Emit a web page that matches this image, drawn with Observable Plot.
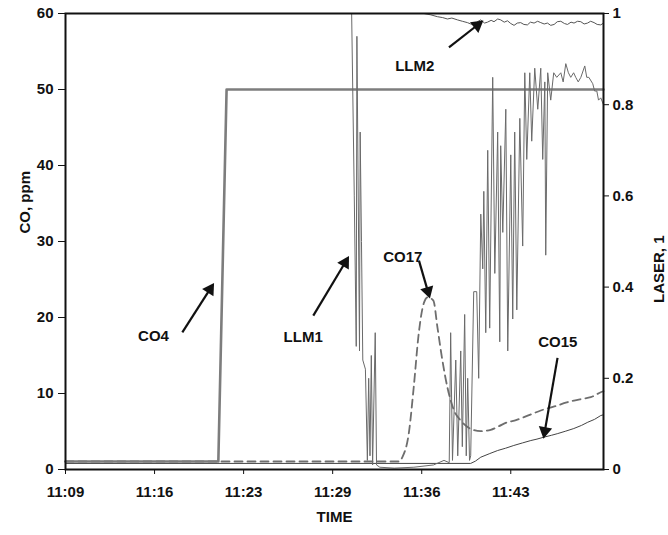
<!DOCTYPE html>
<html>
<head>
<meta charset="utf-8">
<script src="https://cdn.jsdelivr.net/npm/d3@7"></script>
<script src="https://cdn.jsdelivr.net/npm/@observablehq/plot@0.6"></script>
<style>
  html, body { margin: 0; padding: 0; background: #fff; }
  #chart { width: 668px; height: 535px; }
</style>
</head>
<body>
<div id="chart"></div>
<script>
// time in minutes after 11:00
const xTicks = [9.4, 16.2, 23.0, 29.8, 36.6, 43.4];
const xTickLabels = ["11:09", "11:16", "11:23", "11:29", "11:36", "11:43"];
const coTicks = [0, 10, 20, 30, 40, 50, 60];
const laserTicks = [0, 0.2, 0.4, 0.6, 0.8, 1];
const laserTickLabels = ["0", "0.2", "0.4", "0.6", "0.8", "1"];

// CO, ppm
const co4 = [[9.4, 1.05], [21.07, 1.05], [21.7, 50], [50.48, 50]];
const co15 = [[9.4, 0.8], [40.34, 0.8], [40.7, 1.1], [41.11, 1.62], [41.8, 2.1], [42.4, 2.5], [43.0, 2.8], [43.63, 3.16],
  [44.3, 3.5], [44.93, 3.81], [45.4, 4.0], [45.92, 4.25], [46.5, 4.5], [46.99, 4.73], [47.6, 5.05], [48.21, 5.39],
  [48.8, 5.8], [49.28, 6.22], [49.8, 6.6], [50.27, 7.1], [50.48, 7.2]];
const co17 = [[9.4, 1.05], [34.9, 1.05], [35.12, 1.62], [35.61, 4.73], [35.99, 10.82], [36.37, 17.88], [36.75, 21.83],
  [37.06, 22.66], [37.49, 22.22], [37.80, 18.71], [38.18, 14.33], [38.56, 10.82], [39.07, 7.76], [39.58, 6.44],
  [40.34, 5.35], [41.11, 5.04], [41.87, 5.22], [42.5, 5.7], [43.15, 6.22], [43.8, 6.5], [44.41, 6.88], [45.0, 7.3],
  [45.69, 7.76], [46.3, 8.1], [46.97, 8.42], [47.6, 8.8], [48.23, 9.07], [48.9, 9.3], [49.51, 9.51], [50.27, 10.16], [50.48, 10.3]];

// LASER, 1
const llm1 = [[9.4, 1], [31.25, 1], [31.45, 0.6], [31.6, 0.27], [31.65, 0.95], [31.85, 0.26], [31.9, 0.74], [32.0, 0.5],
  [32.1, 0.24], [32.3, 0.22], [32.45, 0.02], [32.55, 0.2], [32.65, 0.03], [32.75, 0.25], [32.85, 0.01], [33.05, 0.3],
  [33.15, 0.01], [33.4, 0.005], [34.5, 0.003], [36.0, 0.005], [37.5, 0.01], [38.3, 0.02], [38.7, 0.015],
  [38.81, 0.3], [38.95, 0.02], [39.2, 0.24], [39.35, 0.03], [39.58, 0.26], [39.7, 0.05], [39.88, 0.34], [40.0, 0.03],
  [40.11, 0.2], [40.25, 0.02], [40.34, 0.03], [40.57, 0.39], [40.8, 0.39], [40.95, 0.2], [41.11, 0.56], [41.26, 0.44],
  [41.34, 0.61], [41.49, 0.3], [41.64, 0.7], [41.79, 0.31], [42.02, 0.86], [42.18, 0.43], [42.4, 0.74], [42.56, 0.28],
  [42.63, 0.71], [42.79, 0.52], [43.02, 0.79], [43.17, 0.26], [43.4, 0.69], [43.55, 0.33], [43.7, 0.74], [43.86, 0.35],
  [44.09, 0.77], [44.31, 0.49], [44.47, 0.87], [44.62, 0.68], [44.85, 0.87], [45.0, 0.72], [45.23, 0.88], [45.46, 0.79],
  [45.69, 0.88], [45.84, 0.68], [46.0, 0.85], [46.07, 0.47], [46.22, 0.87], [46.45, 0.81], [46.68, 0.87], [46.91, 0.86],
  [47.22, 0.87], [47.4, 0.85], [47.6, 0.89], [47.8, 0.87], [47.98, 0.86], [48.2, 0.87], [48.36, 0.86], [48.55, 0.85],
  [48.75, 0.86], [49.05, 0.885], [49.2, 0.86], [49.36, 0.86], [49.66, 0.846], [49.8, 0.83], [49.97, 0.83], [50.1, 0.81],
  [50.27, 0.815], [50.48, 0.8]];
const llm2 = [[9.4, 1], [36.77, 1], [37.3, 0.997], [37.8, 0.993], [38.2, 0.991], [38.56, 0.988], [38.9, 0.99], [39.33, 0.986],
  [39.7, 0.983], [40.09, 0.98], [40.35, 0.977], [40.59, 0.975], [40.85, 0.982], [41.11, 0.986], [41.4, 0.979],
  [41.62, 0.981], [41.9, 0.985], [42.12, 0.982], [42.4, 0.988], [42.63, 0.986], [42.9, 0.981], [43.15, 0.984],
  [43.4, 0.978], [43.65, 0.974], [43.9, 0.979], [44.16, 0.98], [44.4, 0.976], [44.67, 0.975], [44.9, 0.981],
  [45.18, 0.979], [45.45, 0.983], [45.69, 0.98], [45.95, 0.977], [46.2, 0.979], [46.45, 0.974], [46.71, 0.976],
  [46.95, 0.982], [47.22, 0.983], [47.5, 0.978], [47.73, 0.976], [48.0, 0.981], [48.23, 0.979], [48.5, 0.983],
  [48.75, 0.982], [49.0, 0.977], [49.26, 0.979], [49.5, 0.983], [49.76, 0.98], [50.0, 0.976], [50.27, 0.975], [50.48, 0.979]];

// annotations (time in minutes, CO ppm)
const noteText = ["LLM2", "CO4", "LLM1", "CO17", "CO15"];
const noteX = [36.07, 16.12, 27.55, 35.15, 46.99];
const noteY = [53.1, 17.6, 17.4, 28.0, 16.7];
const arrowFrom = [[38.68, 55.53], [18.32, 18.05], [28.32, 20.25], [36.39, 27.48], [46.97, 14.69]];
const arrowTo = [[41.11, 58.82], [20.61, 24.19], [30.92, 27.71], [37.16, 22.9], [45.94, 4.47]];

const W = 668, H = 535, ML = 65, MR = 65, MT = 13, MB = 66;
const xDomain = [9.4, 50.48], yDomain = [0, 60];
const kx = (W - ML - MR) / (xDomain[1] - xDomain[0]);
const ky = (H - MT - MB) / (yDomain[1] - yDomain[0]);

const notes = noteText.map((t, i) => ({t, x: noteX[i], y: noteY[i]}));
const arrows = arrowFrom.map((f, i) => {
  const x2 = arrowTo[i][0], y2 = arrowTo[i][1];
  const px = (x2 - f[0]) * kx, py = -(y2 - f[1]) * ky;
  const len = Math.hypot(px, py);
  const back = 4.5;
  return {
    x1: f[0], y1: f[1], x2, y2,
    hx: x2 - (px / len) * back / kx,
    hy: y2 + (py / len) * back / ky,
    angle: Math.atan2(px, -py) * 180 / Math.PI
  };
});

const font = "'Liberation Sans', Arial, Helvetica, sans-serif";

const chart = Plot.plot({
  width: W,
  height: H,
  marginLeft: ML,
  marginRight: MR,
  marginTop: MT,
  marginBottom: MB,
  style: {fontFamily: font, background: "white", color: "#111"},
  x: {domain: xDomain},
  y: {domain: yDomain},
  marks: [
    Plot.line(llm2, {x: d => d[0], y: d => d[1] * 60, stroke: "#555", strokeWidth: 1}),
    Plot.line(co15, {x: d => d[0], y: d => d[1], stroke: "#444", strokeWidth: 1}),
    Plot.line(co17, {x: d => d[0], y: d => d[1], stroke: "#6e6e6e", strokeWidth: 1.8, strokeDasharray: "8,5", curve: "monotone-x"}),
    Plot.line(co4, {x: d => d[0], y: d => d[1], stroke: "#7d7d7d", strokeWidth: 2.6}),
    Plot.line(llm1, {x: d => d[0], y: d => d[1] * 60, stroke: "#6a6a6a", strokeWidth: 1}),
    Plot.frame({stroke: "#111", strokeWidth: 2}),
    Plot.axisY(coTicks, {anchor: "left", tickSize: 7, tickPadding: 5, fontSize: 15, fontWeight: "bold", label: null, stroke: "#111"}),
    Plot.axisY(laserTicks.map(v => v * 60), {anchor: "right", tickSize: 5, tickPadding: 4, fontSize: 15, fontWeight: "bold", label: null,
      tickFormat: d => laserTickLabels[laserTicks.findIndex(v => Math.abs(v * 60 - d) < 1e-6)]}),
    Plot.axisX(xTicks, {anchor: "bottom", tickSize: 5, tickPadding: 12, fontSize: 15, fontWeight: "bold", label: null,
      tickFormat: d => xTickLabels[xTicks.indexOf(d)]}),
    Plot.text(["CO, ppm"], {frameAnchor: "left", dx: -40, dy: -8, rotate: -90, fontSize: 15, fontWeight: "bold", fill: "#111"}),
    Plot.text(["LASER, 1"], {frameAnchor: "right", dx: 56, dy: -6, rotate: -90, fontSize: 15, fontWeight: "bold", fill: "#111"}),
    Plot.text(["TIME"], {frameAnchor: "bottom", dy: 52, fontSize: 15, fontWeight: "bold", fill: "#111"}),
    Plot.link(arrows, {x1: "x1", y1: "y1", x2: "hx", y2: "hy", stroke: "#111", strokeWidth: 2.2}),
    Plot.dot(arrows, {x: "hx", y: "hy", symbol: "triangle", r: 5, fill: "#111", stroke: "none", rotate: "angle"}),
    Plot.text(notes, {x: "x", y: "y", text: "t", fontSize: 15, fontWeight: "bold", fill: "#111"})
  ]
});
document.getElementById("chart").appendChild(chart);
</script>
</body>
</html>
